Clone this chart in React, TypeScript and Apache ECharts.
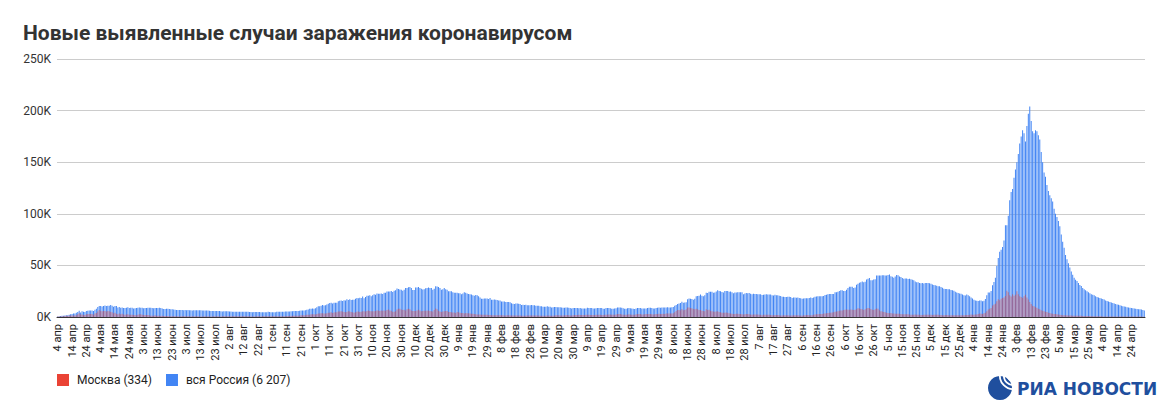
import React, { useEffect, useRef } from "react";
import * as echarts from "echarts";

// Month abbreviations used in the date tick labels
const MONTHS = ["янв", "фев", "мар", "апр", "мая", "июн", "июл", "авг", "сен", "окт", "ноя", "дек"];
const START_DATE = Date.UTC(2020, 3, 4); // 4 апр 2020

const Y_TICKS = [0, 50000, 100000, 150000, 200000, 250000];

const TITLE = "Новые выявленные случаи заражения коронавирусом";
const MOSCOW_NAME = "Москва (334)";
const RUSSIA_NAME = "вся Россия (6 207)";

// Daily new cases, whole Russia, thousands
const russia2020 = [
  // апр (4–30)
  0.6, 0.7, 1.0, 1.2, 1.2, 1.5, 1.8, 1.7, 2.2, 2.6, 2.8, 3.4, 3.4, 4.1, 4.8, 6.1, 4.3, 5.6, 5.2, 4.8, 5.8, 6.0, 6.4, 6.2, 6.4, 5.8, 7.1,
  // май
  7.9, 9.6, 10.6, 10.6, 10.1, 10.6, 11.2, 10.7, 10.8, 11.0, 11.7, 10.9, 10.0, 10.6, 10.6, 9.2, 9.7, 8.9, 9.3, 8.8, 8.8, 8.9, 9.4, 8.6, 9.0, 8.9, 8.3, 8.4, 8.6, 9.0, 9.3,
  // июн
  8.9, 9.0, 8.5, 8.8, 8.7, 8.9, 9.0, 9.0, 8.6, 8.4, 8.8, 8.8, 8.7, 8.9, 8.8, 8.2, 7.8, 7.8, 8.0, 7.9, 7.7, 7.6, 7.4, 7.2, 7.1, 6.8, 6.9, 6.8, 6.7, 6.7,
  // июл
  6.6, 6.8, 6.6, 6.7, 6.6, 6.6, 6.4, 6.6, 6.5, 6.6, 6.6, 6.6, 6.5, 6.2, 6.4, 6.4, 6.4, 6.2, 6.1, 5.9, 5.8, 5.8, 5.8, 5.8, 5.9, 5.8, 5.6, 5.4, 5.5, 5.5, 5.5,
  // авг
  5.5, 5.4, 5.4, 5.2, 5.2, 5.2, 5.2, 5.2, 5.2, 5.1, 5.1, 5.1, 5.1, 5.1, 5.1, 4.9, 4.8, 4.7, 4.8, 4.8, 4.9, 4.9, 4.9, 4.7, 4.7, 4.7, 4.7, 4.7, 5.0, 4.9, 4.7,
  // сен
  4.7, 4.7, 4.7, 5.0, 5.2, 5.2, 5.2, 5.1, 5.1, 5.4, 5.4, 5.4, 5.4, 5.5, 5.5, 5.7, 5.8, 5.9, 5.9, 6.1, 6.2, 6.2, 6.4, 6.6, 7.0, 7.2, 7.9, 8.1, 8.2, 8.1,
  // окт
  8.5, 9.4, 10.5, 10.5, 10.9, 11.6, 11.1, 11.5, 12.1, 12.8, 13.6, 13.9, 13.1, 13.8, 13.9, 13.8, 15.2, 15.7, 16.0, 15.6, 16.3, 16.0, 17.3, 16.5, 17.2, 16.5, 16.7, 16.6, 17.7, 18.3, 18.1,
  // ноя
  18.7, 18.3, 19.8, 18.2, 19.4, 20.6, 20.5, 21.0, 20.0, 21.0, 22.0, 21.6, 22.7, 22.6, 22.6, 22.8, 22.4, 23.6, 23.6, 24.6, 24.8, 24.6, 25.2, 24.3, 25.5, 26.0, 27.5, 27.1, 26.7, 26.3,
  // дек
  25.5, 26.4, 28.1, 28.2, 28.8, 29.0, 28.1, 26.1, 26.2, 28.6, 28.6, 29.0, 28.1, 27.3, 26.7, 27.0, 27.9, 28.2, 28.6, 28.2, 28.0, 26.4, 27.4, 29.9, 29.5, 29.0, 28.1, 26.5, 27.0, 28.0, 27.0,
];

const russia2021 = [
  // янв
  26.5, 25.0, 25.0, 25.0, 24.0, 23.5, 23.6, 23.5, 23.0, 23.0, 22.0, 22.7, 24.1, 23.5, 22.8, 22.3, 22.0, 21.8, 21.0, 20.5, 21.2, 21.1, 20.0, 19.0, 17.8, 17.7, 18.0, 18.0, 18.0, 17.5, 18.4,
  // фев
  16.6, 16.6, 17.0, 16.7, 16.4, 16.0, 16.0, 15.1, 14.9, 14.9, 14.6, 14.6, 14.5, 14.2, 13.4, 12.8, 12.6, 13.0, 13.0, 12.8, 12.7, 11.7, 11.8, 11.7, 11.8, 11.5, 11.3, 11.5,
  // мар
  11.6, 11.4, 11.3, 11.0, 11.0, 10.9, 10.5, 10.3, 10.0, 10.0, 10.0, 10.3, 10.0, 9.9, 9.3, 9.5, 9.7, 9.7, 9.4, 9.4, 9.5, 9.1, 8.9, 8.9, 9.1, 9.3, 8.9, 8.8, 8.3, 8.6, 8.6,
  // апр
  8.8, 8.7, 8.5, 8.6, 8.3, 8.3, 8.3, 8.3, 8.9, 8.7, 8.8, 8.6, 8.3, 8.2, 8.5, 8.8, 8.7, 8.7, 8.7, 8.0, 8.1, 8.6, 8.7, 8.6, 8.4, 8.0, 8.0, 8.3, 8.4, 9.1,
  // май
  9.3, 9.3, 9.0, 8.5, 7.9, 8.0, 8.4, 8.8, 8.4, 8.3, 8.0, 7.8, 8.2, 8.8, 8.6, 8.6, 8.3, 8.2, 8.3, 8.2, 8.6, 8.9, 8.9, 8.6, 8.2, 8.3, 8.6, 8.9, 9.1, 8.9, 9.1,
  // июн
  9.3, 9.1, 9.3, 9.4, 9.1, 9.3, 9.4, 9.6, 11.0, 11.7, 12.5, 13.0, 13.5, 14.7, 13.7, 14.1, 14.4, 17.3, 17.9, 17.6, 17.4, 16.7, 17.6, 20.2, 20.4, 20.5, 21.7, 20.5, 20.2, 21.0,
  // июл
  23.5, 23.2, 24.4, 24.4, 24.4, 23.5, 23.7, 24.7, 25.8, 25.1, 24.9, 24.3, 23.8, 25.1, 25.3, 25.1, 24.4, 24.8, 24.1, 23.1, 23.7, 23.8, 24.0, 24.1, 23.9, 23.9, 22.1, 22.7, 23.3, 23.0, 23.3,
  // авг
  22.6, 22.0, 22.5, 22.3, 22.4, 22.0, 22.1, 22.0, 21.4, 21.6, 21.9, 22.1, 21.9, 21.7, 21.8, 21.1, 20.8, 21.6, 21.1, 21.1, 20.6, 20.4, 19.6, 19.6, 19.3, 19.5, 19.6, 19.6, 19.5, 18.3, 18.8,
  // сен
  18.9, 18.6, 18.8, 18.3, 18.1, 17.6, 17.9, 18.1, 18.2, 18.2, 18.4, 18.9, 18.5, 18.8, 19.6, 19.9, 20.2, 20.1, 20.2, 20.0, 20.3, 21.4, 21.6, 22.1, 22.2, 22.4, 22.3, 22.4, 23.9, 23.9,
  // окт
  24.5, 25.1, 25.8, 25.8, 25.1, 25.1, 26.4, 28.1, 29.4, 29.4, 29.4, 28.2, 28.7, 31.3, 32.2, 33.2, 33.7, 34.3, 33.7, 34.1, 36.3, 37.1, 37.7, 35.7, 35.7, 36.4, 36.6, 40.1, 40.1, 40.3, 40.3,
  // ноя
  40.4, 40.4, 40.2, 40.2, 40.7, 41.3, 39.4, 39.1, 38.1, 39.2, 40.8, 40.4, 39.3, 38.8, 37.9, 37.1, 37.4, 37.2, 36.9, 37.1, 36.6, 36.0, 35.7, 34.3, 33.6, 33.6, 32.9, 32.6, 33.0, 32.4,
  // дек
  33.0, 32.9, 33.0, 32.6, 32.1, 31.6, 30.9, 30.8, 30.4, 29.9, 29.9, 29.1, 28.4, 27.4, 27.2, 27.2, 26.8, 26.8, 26.1, 25.9, 25.5, 24.5, 23.8, 23.2, 22.8, 22.6, 21.8, 21.1, 20.9, 21.9, 21.1,
];

const russia2022 = [
  // янв
  20.0, 19.0, 18.0, 16.7, 16.0, 15.8, 15.6, 15.9, 16.0, 15.2, 15.8, 17.5, 21.0, 23.8, 23.8, 25.3, 30.7, 33.9, 38.0, 49.5, 57.2, 63.2, 65.1, 67.8, 74.1, 88.8, 88.8, 98.0, 113.1, 121.2, 124.1,
  // фев
  135, 143, 150, 158, 168, 175, 181, 178, 170, 185, 197, 204, 190, 180, 178, 181, 180, 176, 172, 160, 150, 140, 136, 128, 122, 118, 115, 112,
  // мар
  105, 100, 97, 93, 88, 80, 73, 67, 60, 56, 52, 48, 44, 41, 38, 36, 35, 33, 31, 30, 28, 27, 26, 25, 24, 23, 22, 21.5, 21, 20, 19.5,
  // апр
  19, 18.5, 18, 17.5, 17, 16, 15.5, 15, 14.5, 14, 13.5, 13, 12.5, 12, 11.8, 11.5, 11, 10.5, 10.2, 10, 9.5, 9.2, 9, 8.8, 8.5, 8.2, 8, 7.8, 7.6, 7.5,
  // май (1–3)
  7.2, 6.9, 6.207,
];

// Daily new cases, Moscow, thousands
const moscow2020 = [
  // апр (4–30)
  0.4, 0.4, 0.6, 0.7, 0.7, 0.9, 1.1, 1.0, 1.4, 1.5, 1.4, 1.5, 1.4, 1.6, 2.6, 3.6, 2.5, 2.5, 2.0, 2.0, 2.6, 2.8, 3.0, 2.9, 2.9, 2.2, 3.5,
  // май
  3.9, 5.4, 6.7, 6.0, 5.6, 5.7, 5.8, 5.4, 5.7, 5.6, 5.2, 4.5, 3.6, 4.0, 3.2, 2.7, 3.4, 2.7, 3.1, 2.5, 2.1, 2.4, 2.6, 2.1, 2.1, 2.3, 1.9, 2.0, 1.8, 2.3, 2.6,
  // июн
  2.6, 2.3, 2.0, 2.0, 2.0, 1.9, 1.6, 1.3, 1.2, 1.2, 1.6, 1.2, 1.2, 1.1, 1.0, 1.1, 0.9, 1.0, 0.9, 1.0, 0.8, 0.7, 0.7, 0.7, 0.8, 0.8, 0.7, 0.6, 0.8, 0.7,
  // июл
  0.7, 0.7, 0.7, 0.7, 0.7, 0.6, 0.7, 0.6, 0.7, 0.7, 0.7, 0.6, 0.6, 0.6, 0.6, 0.7, 0.6, 0.7, 0.6, 0.6, 0.6, 0.7, 0.6, 0.7, 0.7, 0.6, 0.6, 0.7, 0.7, 0.7, 0.7,
  // авг
  0.7, 0.7, 0.7, 0.7, 0.7, 0.7, 0.7, 0.7, 0.7, 0.7, 0.7, 0.7, 0.7, 0.7, 0.7, 0.7, 0.6, 0.6, 0.6, 0.6, 0.7, 0.7, 0.7, 0.6, 0.7, 0.7, 0.7, 0.7, 0.7, 0.7, 0.7,
  // сен
  0.7, 0.7, 0.7, 0.7, 0.8, 0.8, 0.8, 0.8, 0.8, 0.8, 0.9, 0.9, 1.1, 1.0, 1.1, 1.1, 1.1, 1.2, 1.3, 1.5, 1.6, 1.6, 1.6, 1.8, 2.3, 2.3, 2.3, 2.7, 2.7, 2.7,
  // окт
  2.4, 2.9, 3.5, 3.5, 3.7, 3.7, 3.3, 3.5, 3.7, 4.1, 4.1, 4.6, 3.8, 4.4, 4.5, 4.6, 5.4, 5.4, 5.6, 5.3, 4.8, 4.5, 4.9, 5.5, 5.3, 4.9, 4.6, 4.2, 4.7, 5.2, 5.3,
  // ноя
  4.9, 5.2, 5.6, 5.6, 5.3, 5.9, 6.2, 5.9, 5.5, 5.5, 5.6, 5.8, 6.4, 6.3, 5.7, 6.4, 6.0, 6.2, 6.1, 6.9, 7.2, 6.4, 6.1, 5.2, 5.1, 5.6, 7.2, 7.9, 7.9, 7.2,
  // дек
  6.8, 7.0, 6.4, 7.5, 8.0, 7.5, 6.4, 5.9, 5.8, 5.9, 6.2, 7.1, 6.4, 5.5, 5.7, 6.0, 6.0, 6.1, 6.4, 5.9, 5.6, 5.4, 6.8, 8.2, 7.4, 6.0, 5.3, 4.9, 5.3, 5.5, 5.7,
];

const moscow2021 = [
  // янв
  5.8, 4.9, 4.9, 4.6, 4.3, 4.3, 3.9, 4.9, 4.6, 4.1, 3.9, 3.9, 3.4, 3.8, 3.7, 3.6, 3.4, 3.1, 3.1, 2.9, 2.7, 2.5, 2.4, 2.5, 2.2, 2.1, 2.2, 2.2, 2.1, 2.0, 2.0,
  // фев
  1.8, 1.8, 1.8, 1.7, 1.7, 1.7, 1.6, 1.6, 1.6, 1.5, 1.5, 1.6, 1.6, 1.5, 1.4, 1.4, 1.4, 1.5, 1.4, 1.4, 1.4, 1.3, 1.3, 1.3, 1.3, 1.4, 1.4, 1.4,
  // мар
  1.5, 1.5, 1.5, 1.5, 1.4, 1.4, 1.3, 1.2, 1.2, 1.3, 1.3, 1.4, 1.4, 1.2, 1.1, 1.3, 1.5, 1.6, 1.6, 1.7, 1.5, 1.5, 1.5, 1.7, 1.8, 2.0, 1.7, 1.5, 1.5, 1.7, 2.0,
  // апр
  2.0, 2.0, 2.1, 1.9, 1.9, 1.9, 2.0, 2.1, 2.3, 2.1, 2.0, 2.0, 1.9, 2.0, 2.1, 2.3, 2.3, 2.2, 2.0, 1.9, 2.1, 2.3, 2.5, 2.5, 2.4, 2.1, 2.1, 2.2, 2.5, 3.0,
  // май
  3.0, 2.8, 2.5, 2.1, 2.1, 2.3, 2.5, 2.6, 2.4, 2.1, 2.1, 2.3, 2.6, 2.9, 2.9, 2.8, 2.4, 2.4, 2.7, 3.0, 2.9, 2.9, 2.8, 2.6, 2.5, 2.6, 2.9, 2.9, 3.1, 3.0, 3.0,
  // июн
  3.1, 3.0, 3.4, 3.4, 3.3, 3.4, 3.5, 3.6, 4.7, 5.7, 6.7, 6.7, 6.5, 7.7, 6.5, 6.7, 7.5, 9.1, 9.1, 8.6, 8.4, 7.7, 7.4, 7.9, 7.4, 6.7, 6.7, 6.0, 5.8, 5.6,
  // июл
  7.6, 6.9, 7.0, 6.1, 5.6, 5.4, 5.1, 5.4, 5.6, 4.9, 4.6, 4.2, 4.0, 4.0, 4.3, 4.1, 3.6, 3.4, 3.2, 2.9, 2.9, 3.2, 3.1, 3.0, 2.8, 2.7, 2.4, 2.7, 2.8, 2.8, 2.7,
  // авг
  2.5, 2.3, 2.4, 2.4, 2.5, 2.4, 2.3, 2.1, 1.8, 2.1, 2.3, 2.3, 2.3, 2.1, 1.9, 1.6, 1.7, 2.0, 2.0, 1.9, 1.8, 1.5, 1.4, 1.6, 1.7, 1.7, 1.6, 1.5, 1.5, 1.4, 1.6,
  // сен
  1.7, 1.7, 1.6, 1.5, 1.5, 1.3, 1.6, 1.8, 1.9, 1.9, 1.8, 1.7, 1.6, 2.1, 2.4, 2.6, 2.7, 2.9, 3.0, 3.0, 3.3, 3.5, 3.7, 3.9, 4.1, 4.2, 4.4, 4.5, 5.1, 5.3,
  // окт
  5.6, 6.0, 6.3, 6.4, 6.7, 7.0, 7.2, 7.1, 7.0, 7.2, 7.0, 6.9, 7.0, 7.4, 8.4, 8.3, 7.7, 7.5, 6.8, 7.6, 8.3, 8.7, 8.4, 7.7, 7.0, 6.7, 7.5, 8.2, 8.0, 6.5, 5.6,
  // ноя
  5.4, 4.9, 4.6, 4.2, 3.8, 3.7, 3.8, 3.5, 3.4, 3.2, 3.1, 3.2, 3.1, 2.9, 2.6, 2.7, 2.7, 2.7, 2.6, 2.4, 2.3, 2.2, 2.3, 2.4, 2.2, 2.2, 2.1, 2.0, 2.0, 2.2,
  // дек
  2.2, 2.2, 2.3, 2.3, 2.2, 2.0, 2.1, 2.2, 2.2, 2.2, 2.0, 1.9, 1.8, 1.8, 1.9, 1.9, 1.8, 1.7, 1.7, 1.6, 1.7, 1.7, 1.7, 1.8, 1.7, 1.6, 1.6, 1.6, 1.9, 1.9, 2.0,
];

const moscow2022 = [
  // янв
  2.2, 2.4, 2.3, 2.3, 2.4, 2.5, 2.8, 3.5, 3.1, 3.0, 3.7, 4.1, 5.6, 7.2, 7.9, 8.7, 11.1, 12.1, 12.8, 15.2, 17.2, 16.2, 17.8, 18.3, 19.0, 20.4, 25.5, 24.0, 21.0, 19.8, 22.0,
  // фев
  20.5, 21.5, 25.0, 22.0, 20.0, 19.5, 18.5, 20.0, 21.5, 19.0, 17.0, 14.5, 12.5, 11.0, 10.5, 9.5, 9.0, 8.0, 7.5, 6.5, 6.0, 5.5, 5.0, 4.8, 4.2, 3.8, 3.5, 3.2,
  // мар
  3.0, 2.8, 2.6, 2.4, 2.2, 2.0, 1.8, 1.7, 1.6, 1.5, 1.5, 1.4, 1.4, 1.3, 1.3, 1.3, 1.2, 1.2, 1.1, 1.1, 1.0, 1.0, 1.0, 0.9, 0.9, 0.9, 0.8, 0.8, 0.8, 0.8, 0.7,
  // апр
  0.7, 0.7, 0.7, 0.6, 0.6, 0.6, 0.6, 0.6, 0.5, 0.5, 0.5, 0.5, 0.5, 0.5, 0.5, 0.5, 0.4, 0.4, 0.4, 0.4, 0.4, 0.4, 0.4, 0.4, 0.4, 0.4, 0.4, 0.4, 0.4, 0.4,
  // май (1–3)
  0.4, 0.35, 0.334,
];

const russiaK = [...russia2020, ...russia2021, ...russia2022];
const moscowK = [...moscow2020, ...moscow2021, ...moscow2022];

function buildDates(n: number): string[] {
  const out: string[] = [];
  for (let i = 0; i < n; i++) {
    const d = new Date(START_DATE + i * 86400000);
    out.push(d.getUTCDate() + " " + MONTHS[d.getUTCMonth()]);
  }
  return out;
}

const FONT = "Roboto, 'Liberation Sans', Arial, sans-serif";

export default function App() {
  const ref = useRef<HTMLDivElement>(null);

  useEffect(() => {
    if (!ref.current) return;
    const chart = echarts.init(ref.current, null, { renderer: "svg" });
    const n = Math.max(russiaK.length, moscowK.length);
    const dates = buildDates(n);
    const russia = russiaK.map((v) => Math.round(v * 1000));
    const moscow = moscowK.map((v) => Math.round(v * 1000));

    chart.setOption({
      animation: false,
      backgroundColor: "#ffffff",
      title: {
        text: TITLE,
        left: 18,
        top: 17,
        textStyle: { fontFamily: FONT, fontSize: 21, fontWeight: "bold", color: "#333333" },
      },
      legend: {
        data: [
          { name: MOSCOW_NAME, itemStyle: { color: "#ea4335", opacity: 1 } },
          { name: RUSSIA_NAME, itemStyle: { color: "#4285f4", opacity: 1 } },
        ],
        left: 52,
        top: 369,
        icon: "rect",
        itemWidth: 12,
        itemHeight: 12,
        itemGap: 14,
        textStyle: { fontFamily: FONT, fontSize: 12, color: "#222222", padding: [0, 0, 0, 3] },
      },
      grid: { left: 57, right: 22, top: 59, bottom: 93, containLabel: false },
      xAxis: {
        type: "category",
        data: dates,
        boundaryGap: true,
        axisLine: { show: true, lineStyle: { color: "#333333", width: 1 } },
        axisTick: { show: false },
        axisLabel: {
          interval: 9,
          rotate: 90,
          margin: 7,
          fontFamily: FONT,
          fontSize: 11,
          color: "#222222",
        },
      },
      yAxis: {
        type: "value",
        min: 0,
        max: 250000,
        interval: 50000,
        axisLine: { show: false },
        axisTick: { show: false },
        splitLine: { lineStyle: { color: "#cccccc", width: 1 } },
        axisLabel: {
          margin: 6,
          fontFamily: FONT,
          fontSize: 12,
          color: "#333333",
          formatter: (v: number) => (Y_TICKS.includes(v) ? v / 1000 + "K" : ""),
        },
      },
      series: [
        {
          name: RUSSIA_NAME,
          type: "bar",
          data: russia,
          barWidth: "58%",
          barGap: "-100%",
          itemStyle: { color: "#4285f4" },
        },
        {
          name: MOSCOW_NAME,
          type: "bar",
          data: moscow,
          barWidth: "58%",
          barGap: "-100%",
          itemStyle: { color: "#ea4335", opacity: 0.5 },
        },
      ],
      graphic: [
        {
          type: "circle",
          shape: { cx: 1000, cy: 388, r: 12 },
          style: { fill: "#1f4f9e" },
          z: 10,
        },
        {
          type: "arc",
          shape: { cx: 1013, cy: 376, r: 5, startAngle: Math.PI * 0.4, endAngle: Math.PI * 1.1 },
          style: { stroke: "#ffffff", lineWidth: 1.8, fill: "none" },
          z: 11,
        },
        {
          type: "arc",
          shape: { cx: 1013, cy: 376, r: 9, startAngle: Math.PI * 0.4, endAngle: Math.PI * 1.1 },
          style: { stroke: "#ffffff", lineWidth: 1.8, fill: "none" },
          z: 11,
        },
        {
          type: "arc",
          shape: { cx: 1013, cy: 376, r: 13, startAngle: Math.PI * 0.4, endAngle: Math.PI * 1.1 },
          style: { stroke: "#ffffff", lineWidth: 1.8, fill: "none" },
          z: 11,
        },
        {
          type: "text",
          x: 1017,
          y: 389,
          style: {
            text: "РИА НОВОСТИ",
            fontFamily: "'DejaVu Sans', sans-serif",
            fontSize: 17,
            fontWeight: "bold",
            fill: "#1f4f9e",
            verticalAlign: "middle",
          },
          z: 12,
        },
      ],
    });

    return () => chart.dispose();
  }, []);

  return (
    <div
      ref={ref}
      style={{ position: "fixed", left: 0, top: 0, width: 1167, height: 410, background: "#fff" }}
    />
  );
}
